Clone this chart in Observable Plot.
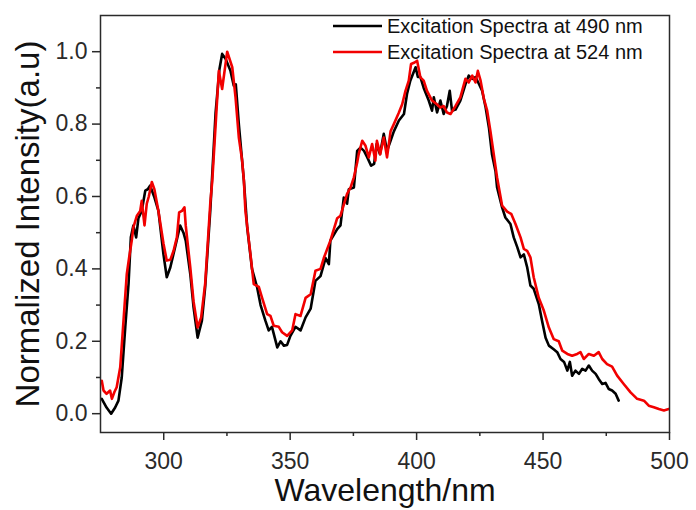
<!DOCTYPE html>
<html>
<head>
<meta charset="utf-8">
<script src="https://cdn.jsdelivr.net/npm/d3@7"></script>
<script src="https://cdn.jsdelivr.net/npm/@observablehq/plot@0.6"></script>
<style>
  html, body { margin: 0; padding: 0; background: #fff; }
  #wrap { position: relative; width: 696px; height: 510px; font-family: "Liberation Sans", Arial, sans-serif; }
  #legend { position: absolute; left: 0; top: 0; pointer-events: none; }
</style>
</head>
<body>
<div id="wrap"></div>
<script>
// Series names
const seriesNames = ["Excitation Spectra at 490 nm", "Excitation Spectra at 524 nm"];
const seriesColors = ["#000000", "#f20000"];

// Excitation spectrum monitored at 490 nm (black)
const wl490 = [275.5,277.4,279.2,280.8,282.1,283.4,284.8,286.1,287.0,288.0,289.1,290.0,291.3,292.7,293.7,294.6,296.2,297.9,299.9,301.2,302.6,304.5,306.5,307.8,308.7,310.5,311.8,313.4,315.1,316.4,318.4,320.5,322.0,323.1,324.5,326.4,327.7,328.5,329.7,331.7,333.0,334.9,336.9,338.3,340.2,341.5,342.8,344.9,346.2,347.5,348.8,350.1,352.1,354.1,356.1,358.1,360.0,362.0,364.0,365.3,365.9,368.6,369.9,371.2,372.5,373.2,375.2,376.5,377.8,379.2,380.5,382.0,383.2,384.2,385.5,387.0,388.3,389.7,391.0,393.0,395.0,396.2,397.5,399.6,400.5,401.5,402.8,404.8,406.1,406.8,408.1,409.4,410.7,412.0,413.1,414.0,415.4,417.3,419.3,420.6,422.0,423.3,424.7,425.9,427.3,428.6,429.8,431.2,431.8,433.8,435.1,437.1,438.4,439.8,441.1,442.4,443.7,445.0,446.3,448.3,449.6,451.0,452.3,454.2,455.6,456.9,458.3,459.6,460.6,461.5,462.8,464.2,465.5,466.8,468.1,469.4,470.8,472.0,473.4,474.7,476.0,477.3,478.7,479.9];
const int490 = [0.041,0.017,0.000,0.017,0.036,0.10,0.24,0.36,0.487,0.52,0.487,0.54,0.56,0.616,0.62,0.63,0.60,0.56,0.44,0.377,0.404,0.46,0.52,0.50,0.478,0.386,0.294,0.21,0.257,0.35,0.56,0.83,0.95,0.994,0.98,0.947,0.906,0.91,0.80,0.644,0.515,0.40,0.35,0.30,0.257,0.23,0.24,0.183,0.20,0.188,0.19,0.215,0.24,0.23,0.266,0.29,0.367,0.38,0.43,0.413,0.478,0.51,0.52,0.597,0.58,0.62,0.625,0.726,0.735,0.726,0.708,0.685,0.69,0.745,0.717,0.773,0.726,0.754,0.78,0.81,0.828,0.883,0.92,0.957,0.93,0.93,0.90,0.865,0.837,0.874,0.832,0.865,0.828,0.85,0.892,0.837,0.84,0.865,0.91,0.934,0.925,0.93,0.91,0.892,0.846,0.79,0.717,0.67,0.626,0.57,0.542,0.524,0.487,0.46,0.432,0.44,0.405,0.354,0.345,0.303,0.257,0.21,0.188,0.178,0.17,0.151,0.143,0.119,0.143,0.105,0.119,0.11,0.124,0.119,0.133,0.119,0.11,0.096,0.082,0.085,0.068,0.064,0.055,0.036];

// Excitation spectrum monitored at 524 nm (red)
const wl524 = [275.5,276.2,277.4,278.8,279.5,280.5,281.4,282.8,284.1,285.4,286.3,287.4,288.0,289.4,290.7,291.3,292.4,293.3,294.1,295.3,296.3,297.9,299.9,301.2,302.6,303.9,305.2,306.1,307.2,308.2,308.7,310.5,311.8,313.4,314.8,316.4,318.4,319.2,321.8,323.1,325.1,327.1,328.4,329.7,331.0,331.7,332.3,334.3,335.6,337.6,338.9,340.9,342.2,343.5,345.5,346.8,348.8,350.8,352.1,354.1,356.1,358.1,360.0,362.0,363.3,365.9,368.6,369.9,372.5,373.9,375.2,376.5,377.1,378.5,379.8,381.1,382.4,383.7,384.3,385.6,387.0,388.3,389.7,391.0,393.0,394.3,395.6,396.9,397.8,399.2,400.2,401.5,402.8,404.1,406.1,408.0,409.4,410.7,412.0,413.4,415.4,417.3,419.3,420.6,422.0,423.3,424.2,425.3,426.6,427.9,429.2,430.5,431.8,433.8,435.8,437.4,439.1,441.1,442.4,443.7,445.0,446.3,448.3,450.3,452.3,454.2,456.2,457.6,459.6,461.5,463.5,464.8,466.1,468.1,470.1,472.0,473.4,475.3,477.3,479.3,481.9,484.6,487.2,489.9,491.8,493.8,495.8,497.8,499.7];
const int524 = [0.091,0.064,0.055,0.064,0.041,0.06,0.073,0.128,0.257,0.386,0.43,0.48,0.515,0.547,0.56,0.588,0.52,0.58,0.60,0.64,0.62,0.56,0.47,0.423,0.425,0.45,0.487,0.556,0.56,0.57,0.52,0.404,0.31,0.238,0.266,0.36,0.58,0.644,0.947,0.897,1.0,0.957,0.874,0.763,0.70,0.644,0.56,0.44,0.358,0.35,0.32,0.275,0.27,0.243,0.24,0.225,0.215,0.23,0.275,0.27,0.32,0.33,0.395,0.40,0.43,0.478,0.54,0.547,0.607,0.625,0.653,0.694,0.717,0.754,0.74,0.708,0.745,0.699,0.754,0.717,0.763,0.708,0.78,0.80,0.832,0.855,0.892,0.92,0.966,0.97,0.975,0.929,0.92,0.892,0.865,0.855,0.846,0.85,0.832,0.828,0.85,0.874,0.925,0.915,0.934,0.915,0.947,0.92,0.87,0.837,0.78,0.717,0.653,0.575,0.558,0.552,0.524,0.487,0.455,0.45,0.432,0.377,0.32,0.285,0.238,0.206,0.20,0.174,0.165,0.16,0.165,0.17,0.151,0.165,0.16,0.17,0.151,0.137,0.13,0.105,0.082,0.059,0.041,0.036,0.022,0.018,0.013,0.009,0.013];

// Tick values
const xMajor = [300, 350, 400, 450, 500];
const xMinor = [325, 375, 425, 475];
const yMajor = [0.0, 0.2, 0.4, 0.6, 0.8, 1.0];
const yMinor = [0.1, 0.3, 0.5, 0.7, 0.9];
const xTitle = "Wavelength/nm";
const yTitle = "Normalized Intensity(a.u)";

const s490 = wl490.map((w, i) => ({w, v: int490[i]}));
const s524 = wl524.map((w, i) => ({w, v: int524[i]}));

const axisColor = "#2a2a2a";
const chart = Plot.plot({
  width: 696,
  height: 510,
  marginLeft: 100,
  marginRight: 27,
  marginTop: 15,
  marginBottom: 78,
  x: {domain: [275, 500]},
  y: {domain: [-0.052, 1.10]},
  style: {fontFamily: "'Liberation Sans', Arial, sans-serif", color: axisColor, background: "#fff", overflow: "visible"},
  marks: [
    Plot.axisX({ticks: xMajor, tickSize: 8, tickPadding: 12, fontSize: 23, label: null, strokeWidth: 1.5, tickFormat: d => String(d)}),
    Plot.axisX({ticks: xMinor, tickSize: 4, label: null, strokeWidth: 1.5, tickFormat: () => ""}),
    Plot.axisY({ticks: yMajor, tickSize: 8, tickPadding: 5, fontSize: 23, label: null, strokeWidth: 1.5, tickFormat: d3.format(".1f")}),
    Plot.axisY({ticks: yMinor, tickSize: 4, label: null, strokeWidth: 1.5, tickFormat: () => ""}),
    Plot.line(s490, {x: "w", y: "v", stroke: seriesColors[0], strokeWidth: 2.6}),
    Plot.line(s524, {x: "w", y: "v", stroke: seriesColors[1], strokeWidth: 2.6}),
    Plot.frame({stroke: axisColor, strokeWidth: 1.5}),
    Plot.text([xTitle], {frameAnchor: "bottom", lineAnchor: "middle", textAnchor: "middle", dy: 58, fontSize: 32, fill: "#111"}),
    Plot.text([yTitle], {frameAnchor: "left", lineAnchor: "middle", textAnchor: "middle", rotate: -90, dx: -72, fontSize: 33, fill: "#111"})
  ]
});

const wrap = document.getElementById("wrap");
wrap.appendChild(chart);

// Legend overlay (inside the plot frame, top right)
const ns = "http://www.w3.org/2000/svg";
const leg = document.createElementNS(ns, "svg");
leg.setAttribute("id", "legend");
leg.setAttribute("width", 696);
leg.setAttribute("height", 80);
const rows = [26, 52];
seriesNames.forEach((name, i) => {
  const ln = document.createElementNS(ns, "line");
  ln.setAttribute("x1", 333); ln.setAttribute("x2", 382);
  ln.setAttribute("y1", rows[i]); ln.setAttribute("y2", rows[i]);
  ln.setAttribute("stroke", seriesColors[i]);
  ln.setAttribute("stroke-width", 2.6);
  leg.appendChild(ln);
  const tx = document.createElementNS(ns, "text");
  tx.setAttribute("x", 387);
  tx.setAttribute("y", rows[i]);
  tx.setAttribute("dy", "0.35em");
  tx.setAttribute("font-size", 20);
  tx.setAttribute("font-family", "'Liberation Sans', Arial, sans-serif");
  tx.setAttribute("fill", "#111");
  tx.textContent = name;
  leg.appendChild(tx);
});
wrap.appendChild(leg);
</script>
</body>
</html>
